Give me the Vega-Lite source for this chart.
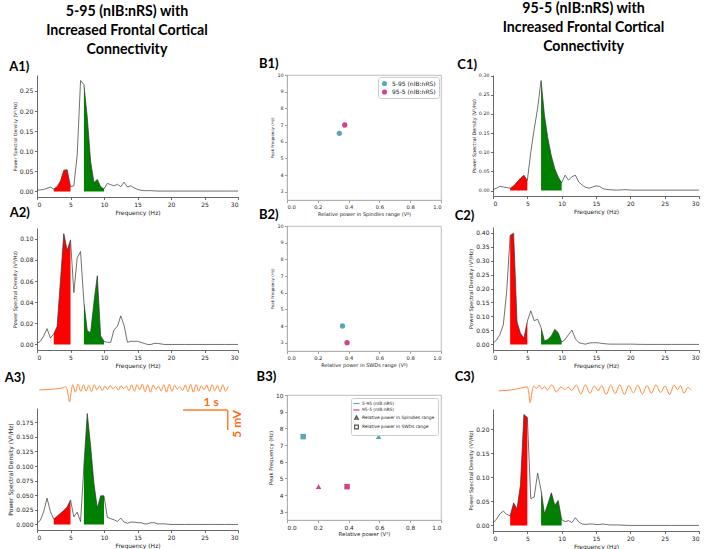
{
"$schema":"https://vega.github.io/schema/vega-lite/v6.json",
"padding":{"left":4,"top":1,"right":2,"bottom":0},
"background":"white",
"config":{
 "font":"DejaVu Sans",
 "view":{"stroke":null},
 "axis":{"grid":false,"labelFontSize":6,"titleFontSize":6,"titleFontWeight":"normal","labelColor":"#222","titleColor":"#222","domainColor":"#444","tickColor":"#444","domainWidth":0.8,"tickWidth":0.8,"tickSize":2.5,"labelPadding":1.5,"titlePadding":2,"labelFont":"DejaVu Sans","titleFont":"DejaVu Sans"},
 "title":{"font":"Lato","fontWeight":"bold","fontSize":13,"anchor":"start","frame":"bounds","offset":1,"color":"#000"},
 "legend":{"labelFont":"DejaVu Sans","titleFont":"DejaVu Sans","labelColor":"#222"}
},
"datasets":{
 "psd":[
  {"k":"A1","f":0,"p":0.003},{"k":"A1","f":0.5,"p":0.004},{"k":"A1","f":1,"p":0.005},{"k":"A1","f":1.5,"p":0.008},{"k":"A1","f":2,"p":0.011},{"k":"A1","f":2.5,"p":0.006},{"k":"A1","f":3,"p":0.012},{"k":"A1","f":3.5,"p":0.026},{"k":"A1","f":4,"p":0.053},{"k":"A1","f":4.5,"p":0.054},{"k":"A1","f":5,"p":0.012},{"k":"A1","f":5.5,"p":0.014},{"k":"A1","f":6,"p":0.09},{"k":"A1","f":6.5,"p":0.276},{"k":"A1","f":7,"p":0.266},{"k":"A1","f":7.5,"p":0.185},{"k":"A1","f":8,"p":0.075},{"k":"A1","f":8.5,"p":0.022},{"k":"A1","f":9,"p":0.03},{"k":"A1","f":9.5,"p":0.012},{"k":"A1","f":10,"p":0.006},{"k":"A1","f":10.5,"p":0.02},{"k":"A1","f":11,"p":0.017},{"k":"A1","f":11.5,"p":0.014},{"k":"A1","f":12,"p":0.018},{"k":"A1","f":12.5,"p":0.012},{"k":"A1","f":13,"p":0.023},{"k":"A1","f":13.5,"p":0.011},{"k":"A1","f":14,"p":0.014},{"k":"A1","f":14.5,"p":0.009},{"k":"A1","f":15,"p":0.005},{"k":"A1","f":15.5,"p":0.003},{"k":"A1","f":16,"p":0.002},{"k":"A1","f":17,"p":0.002},{"k":"A1","f":18,"p":0.001},{"k":"A1","f":20,"p":0.001},{"k":"A1","f":22,"p":0.001},{"k":"A1","f":24,"p":0.001},{"k":"A1","f":26,"p":0.001},{"k":"A1","f":28,"p":0.001},{"k":"A1","f":30,"p":0.001},
  {"k":"A2","f":0,"p":0.001},{"k":"A2","f":0.5,"p":0.003},{"k":"A2","f":1,"p":0.008},{"k":"A2","f":1.5,"p":0.015},{"k":"A2","f":2,"p":0.006},{"k":"A2","f":2.5,"p":0.01},{"k":"A2","f":3,"p":0.017},{"k":"A2","f":3.5,"p":0.06},{"k":"A2","f":4,"p":0.105},{"k":"A2","f":4.5,"p":0.089},{"k":"A2","f":5,"p":0.099},{"k":"A2","f":5.5,"p":0.049},{"k":"A2","f":6,"p":0.082},{"k":"A2","f":6.5,"p":0.088},{"k":"A2","f":7,"p":0.04},{"k":"A2","f":7.5,"p":0.013},{"k":"A2","f":8,"p":0.011},{"k":"A2","f":8.5,"p":0.04},{"k":"A2","f":9,"p":0.065},{"k":"A2","f":9.5,"p":0.008},{"k":"A2","f":10,"p":0.003},{"k":"A2","f":10.5,"p":0.002},{"k":"A2","f":11,"p":0.002},{"k":"A2","f":11.5,"p":0.014},{"k":"A2","f":12,"p":0.017},{"k":"A2","f":12.5,"p":0.027},{"k":"A2","f":13,"p":0.018},{"k":"A2","f":13.5,"p":0.002},{"k":"A2","f":14,"p":0.003},{"k":"A2","f":14.5,"p":0.003},{"k":"A2","f":15,"p":0.003},{"k":"A2","f":15.5,"p":0.002},{"k":"A2","f":16,"p":0.001},{"k":"A2","f":16.5,"p":0},{"k":"A2","f":17,"p":0},{"k":"A2","f":17.5,"p":0.001},{"k":"A2","f":18,"p":0.001},{"k":"A2","f":19,"p":0},{"k":"A2","f":20,"p":0},{"k":"A2","f":22,"p":0},{"k":"A2","f":24,"p":0},{"k":"A2","f":26,"p":0},{"k":"A2","f":28,"p":0},{"k":"A2","f":30,"p":0},
  {"k":"A3","f":0,"p":0.002},{"k":"A3","f":0.5,"p":0.007},{"k":"A3","f":1,"p":0.022},{"k":"A3","f":1.5,"p":0.045},{"k":"A3","f":2,"p":0.022},{"k":"A3","f":2.5,"p":0.009},{"k":"A3","f":3,"p":0.014},{"k":"A3","f":3.5,"p":0.019},{"k":"A3","f":4,"p":0.024},{"k":"A3","f":4.5,"p":0.03},{"k":"A3","f":5,"p":0.042},{"k":"A3","f":5.5,"p":0.013},{"k":"A3","f":6,"p":0.021},{"k":"A3","f":6.5,"p":0.005},{"k":"A3","f":7,"p":0.1},{"k":"A3","f":7.5,"p":0.19},{"k":"A3","f":8,"p":0.135},{"k":"A3","f":8.5,"p":0.07},{"k":"A3","f":9,"p":0.028},{"k":"A3","f":9.5,"p":0.049},{"k":"A3","f":10,"p":0.049},{"k":"A3","f":10.5,"p":0.012},{"k":"A3","f":11,"p":0.01},{"k":"A3","f":11.5,"p":0.008},{"k":"A3","f":12,"p":0.005},{"k":"A3","f":12.5,"p":0.011},{"k":"A3","f":13,"p":0.004},{"k":"A3","f":13.5,"p":0.002},{"k":"A3","f":14,"p":0.004},{"k":"A3","f":14.5,"p":0.004},{"k":"A3","f":15,"p":0.003},{"k":"A3","f":15.5,"p":0.003},{"k":"A3","f":16,"p":0.001},{"k":"A3","f":16.5,"p":0.001},{"k":"A3","f":17,"p":0.003},{"k":"A3","f":17.5,"p":0.003},{"k":"A3","f":18,"p":0.001},{"k":"A3","f":19,"p":0.001},{"k":"A3","f":20,"p":0},{"k":"A3","f":22,"p":0},{"k":"A3","f":24,"p":0},{"k":"A3","f":26,"p":0},{"k":"A3","f":28,"p":0},{"k":"A3","f":30,"p":0},
  {"k":"C1","f":0,"p":0.002},{"k":"C1","f":0.5,"p":0.006},{"k":"C1","f":1,"p":0.011},{"k":"C1","f":1.5,"p":0.009},{"k":"C1","f":2,"p":0.008},{"k":"C1","f":2.5,"p":0.006},{"k":"C1","f":3,"p":0.012},{"k":"C1","f":3.5,"p":0.022},{"k":"C1","f":4,"p":0.032},{"k":"C1","f":4.5,"p":0.04},{"k":"C1","f":5,"p":0.026},{"k":"C1","f":5.5,"p":0.1},{"k":"C1","f":6,"p":0.16},{"k":"C1","f":6.5,"p":0.215},{"k":"C1","f":7,"p":0.287},{"k":"C1","f":7.5,"p":0.195},{"k":"C1","f":8,"p":0.135},{"k":"C1","f":8.5,"p":0.09},{"k":"C1","f":9,"p":0.057},{"k":"C1","f":9.5,"p":0.035},{"k":"C1","f":10,"p":0.02},{"k":"C1","f":10.5,"p":0.04},{"k":"C1","f":11,"p":0.027},{"k":"C1","f":11.5,"p":0.036},{"k":"C1","f":12,"p":0.04},{"k":"C1","f":12.5,"p":0.022},{"k":"C1","f":13,"p":0.014},{"k":"C1","f":13.5,"p":0.008},{"k":"C1","f":14,"p":0.006},{"k":"C1","f":14.5,"p":0.009},{"k":"C1","f":15,"p":0.012},{"k":"C1","f":15.5,"p":0.011},{"k":"C1","f":16,"p":0.005},{"k":"C1","f":16.5,"p":0.003},{"k":"C1","f":17,"p":0.002},{"k":"C1","f":18,"p":0.001},{"k":"C1","f":19,"p":0.002},{"k":"C1","f":19.5,"p":0.002},{"k":"C1","f":20,"p":0.001},{"k":"C1","f":22,"p":0.001},{"k":"C1","f":24,"p":0.001},{"k":"C1","f":26,"p":0.001},{"k":"C1","f":28,"p":0.001},{"k":"C1","f":30,"p":0.001},
  {"k":"C2","f":0,"p":0.005},{"k":"C2","f":0.5,"p":0.015},{"k":"C2","f":1,"p":0.035},{"k":"C2","f":1.5,"p":0.07},{"k":"C2","f":2,"p":0.19},{"k":"C2","f":2.5,"p":0.39},{"k":"C2","f":3,"p":0.398},{"k":"C2","f":3.5,"p":0.08},{"k":"C2","f":4,"p":0.04},{"k":"C2","f":4.5,"p":0.022},{"k":"C2","f":5,"p":0.083},{"k":"C2","f":5.5,"p":0.12},{"k":"C2","f":6,"p":0.085},{"k":"C2","f":6.5,"p":0.09},{"k":"C2","f":7,"p":0.06},{"k":"C2","f":7.5,"p":0.012},{"k":"C2","f":8,"p":0.018},{"k":"C2","f":8.5,"p":0.03},{"k":"C2","f":9,"p":0.054},{"k":"C2","f":9.5,"p":0.042},{"k":"C2","f":10,"p":0.008},{"k":"C2","f":10.5,"p":0.018},{"k":"C2","f":11,"p":0.035},{"k":"C2","f":11.5,"p":0.051},{"k":"C2","f":12,"p":0.02},{"k":"C2","f":12.5,"p":0.006},{"k":"C2","f":13,"p":0.003},{"k":"C2","f":13.5,"p":0.001},{"k":"C2","f":14,"p":0.005},{"k":"C2","f":14.5,"p":0.006},{"k":"C2","f":15,"p":0.006},{"k":"C2","f":15.5,"p":0.005},{"k":"C2","f":16,"p":0.003},{"k":"C2","f":16.5,"p":0.002},{"k":"C2","f":17,"p":0.001},{"k":"C2","f":18,"p":0.001},{"k":"C2","f":20,"p":0.001},{"k":"C2","f":22,"p":0},{"k":"C2","f":24,"p":0},{"k":"C2","f":26,"p":0},{"k":"C2","f":28,"p":0},{"k":"C2","f":30,"p":0},
  {"k":"C3","f":0,"p":0.005},{"k":"C3","f":0.5,"p":0.013},{"k":"C3","f":1,"p":0.024},{"k":"C3","f":1.5,"p":0.03},{"k":"C3","f":2,"p":0.023},{"k":"C3","f":2.5,"p":0.02},{"k":"C3","f":3,"p":0.047},{"k":"C3","f":3.5,"p":0.035},{"k":"C3","f":4,"p":0.084},{"k":"C3","f":4.5,"p":0.231},{"k":"C3","f":5,"p":0.225},{"k":"C3","f":5.5,"p":0.056},{"k":"C3","f":6,"p":0.059},{"k":"C3","f":6.5,"p":0.109},{"k":"C3","f":7,"p":0.073},{"k":"C3","f":7.5,"p":0.024},{"k":"C3","f":8,"p":0.045},{"k":"C3","f":8.5,"p":0.068},{"k":"C3","f":9,"p":0.042},{"k":"C3","f":9.5,"p":0.052},{"k":"C3","f":10,"p":0.012},{"k":"C3","f":10.5,"p":0.008},{"k":"C3","f":11,"p":0.01},{"k":"C3","f":11.5,"p":0.006},{"k":"C3","f":12,"p":0.016},{"k":"C3","f":12.5,"p":0.007},{"k":"C3","f":13,"p":0.003},{"k":"C3","f":13.5,"p":0.002},{"k":"C3","f":14,"p":0.003},{"k":"C3","f":14.5,"p":0.003},{"k":"C3","f":15,"p":0.002},{"k":"C3","f":15.5,"p":0.002},{"k":"C3","f":16,"p":0.003},{"k":"C3","f":16.5,"p":0.002},{"k":"C3","f":17,"p":0.001},{"k":"C3","f":18,"p":0.001},{"k":"C3","f":20,"p":0},{"k":"C3","f":22,"p":0},{"k":"C3","f":24,"p":0},{"k":"C3","f":26,"p":0},{"k":"C3","f":28,"p":0},{"k":"C3","f":30,"p":0}
 ],
 "traceA":[
  {"t":0.05,"v":0},{"t":0.2,"v":0.05},{"t":0.35,"v":0.15},{"t":0.5,"v":0.35},{"t":0.6,"v":0.6},{"t":0.63,"v":0.8},{"t":0.67,"v":0.3},{"t":0.7,"v":-1.5},{"t":0.73,"v":-3.0},{"t":0.76,"v":-1.0},{"t":0.8,"v":1.3},{"t":0.86,"v":-0.6},{"t":0.92,"v":1.4},{"t":0.98,"v":-0.4},{"t":1.04,"v":1.2},{"t":1.1,"v":-0.3},{"t":1.16,"v":1.1},{"t":1.22,"v":-0.5},{"t":1.28,"v":1.3},{"t":1.34,"v":0.0},{"t":1.4,"v":1.0},{"t":1.46,"v":-0.2},{"t":1.52,"v":0.9},{"t":1.58,"v":0.1},{"t":1.64,"v":1.1},{"t":1.7,"v":0.2},{"t":1.76,"v":0.8},{"t":1.82,"v":-0.1},{"t":1.88,"v":1.0},{"t":1.94,"v":0.3},{"t":2.0,"v":0.9},{"t":2.06,"v":-0.2},{"t":2.12,"v":1.2},{"t":2.18,"v":-0.4},{"t":2.24,"v":1.3},{"t":2.3,"v":0.0},{"t":2.36,"v":1.4},{"t":2.42,"v":-0.5},{"t":2.48,"v":1.3},{"t":2.54,"v":-0.6},{"t":2.6,"v":1.2},{"t":2.66,"v":0.1},{"t":2.72,"v":0.9},{"t":2.78,"v":-0.3},{"t":2.84,"v":1.3},{"t":2.9,"v":-0.6},{"t":2.96,"v":1.4},{"t":3.02,"v":-0.4},{"t":3.08,"v":1.1},{"t":3.14,"v":0.2},{"t":3.2,"v":0.8},{"t":3.26,"v":-0.2},{"t":3.32,"v":1.2},{"t":3.38,"v":-0.5},{"t":3.44,"v":1.4},{"t":3.5,"v":-0.6},{"t":3.56,"v":1.3},{"t":3.62,"v":-0.3},{"t":3.68,"v":1.0},{"t":3.74,"v":0.0},{"t":3.8,"v":1.2},{"t":3.86,"v":-0.4},{"t":3.92,"v":1.3},{"t":3.98,"v":-0.2},{"t":4.04,"v":1.1},{"t":4.1,"v":-0.5},{"t":4.16,"v":1.3},{"t":4.22,"v":-0.3},{"t":4.28,"v":0.9}
 ],
 "traceC":[
  {"t":0.13,"v":0},{"t":0.3,"v":0.1},{"t":0.5,"v":0.4},{"t":0.7,"v":0.9},{"t":0.76,"v":1.0},{"t":0.79,"v":-0.5},{"t":0.82,"v":-3.0},{"t":0.86,"v":-0.5},{"t":0.9,"v":1.2},{"t":0.96,"v":0.6},{"t":1.02,"v":1.4},{"t":1.08,"v":0.4},{"t":1.14,"v":1.1},{"t":1.2,"v":0.2},{"t":1.3,"v":1.5},{"t":1.4,"v":-0.3},{"t":1.5,"v":1.0},{"t":1.58,"v":0.3},{"t":1.66,"v":0.9},{"t":1.74,"v":0.1},{"t":1.84,"v":1.4},{"t":1.94,"v":-0.8},{"t":2.04,"v":1.5},{"t":2.14,"v":-0.6},{"t":2.24,"v":1.2},{"t":2.32,"v":0.0},{"t":2.4,"v":1.3},{"t":2.5,"v":-0.9},{"t":2.6,"v":1.4},{"t":2.7,"v":-0.7},{"t":2.8,"v":1.5},{"t":2.9,"v":-0.9},{"t":3.0,"v":1.3},{"t":3.1,"v":-0.5},{"t":3.2,"v":1.4},{"t":3.3,"v":-0.8},{"t":3.4,"v":1.3},{"t":3.5,"v":-0.6},{"t":3.6,"v":1.5},{"t":3.7,"v":-0.4},{"t":3.8,"v":1.2},{"t":3.9,"v":-0.9},{"t":4.0,"v":1.4},{"t":4.08,"v":0.3},{"t":4.14,"v":1.3},{"t":4.22,"v":-0.6},{"t":4.3,"v":0.8},{"t":4.38,"v":0.2}
 ],
 "scalebar":[{"t":3.27,"t2":4.27,"v":-5.05,"v2":-5.05},{"t":4.27,"t2":4.27,"v":-5.05,"v2":-10.05}],
 "b1":[{"group":"5-95 (nIB:nRS)","power":0.34,"peak":6.5},{"group":"95-5 (nIB:nRS)","power":0.375,"peak":7.0}],
 "b2":[{"group":"5-95 (nIB:nRS)","power":0.36,"peak":4.0},{"group":"95-5 (nIB:nRS)","power":0.39,"peak":3.0}],
 "b3":[{"group":"5-95 (nIB:nRS)","measure":"Spindles","power":0.595,"peak":7.5},{"group":"5-95 (nIB:nRS)","measure":"SWDs","power":0.105,"peak":7.5},{"group":"95-5 (nIB:nRS)","measure":"Spindles","power":0.205,"peak":4.5},{"group":"95-5 (nIB:nRS)","measure":"SWDs","power":0.39,"peak":4.5}]
},
"spacing":12,
"resolve":{"scale":{"color":"independent","shape":"independent"},"legend":{"color":"independent","shape":"independent"}},
"hconcat":[
 {
  "title":{"text":["5-95 (nIB:nRS) with","Increased Frontal Cortical","Connectivity"],"anchor":"middle","fontSize":14.2,"lineHeight":19,"offset":4,"dx":3},
  "spacing":-8,
  "vconcat":[
   {
    "width":201,"height":122,
    "title":{"text":"A1)","dx":-3},
    "data":{"name":"psd"},
    "transform":[{"filter":"datum.k==='A1'"}],
    "encoding":{
     "x":{"field":"f","type":"quantitative","scale":{"domain":[0,30],"nice":false,"zero":false},"axis":{"title":"Frequency (Hz)","values":[0,5,10,15,20,25,30]}},
     "y":{"field":"p","type":"quantitative","scale":{"domain":[-0.0138,0.2898],"nice":false,"zero":false},"axis":{"title":"Power Spectral Density (V²/Hz)","values":[0,0.05,0.1,0.15,0.2,0.25],"format":".2f","titleFontSize":4.5,"labelFontSize":6.2}}
    },
    "layer":[
     {"transform":[{"filter":"datum.f>=2.5 && datum.f<=5"}],"mark":{"type":"area","color":"#ff0000"},"encoding":{"y2":{"datum":0}}},
     {"transform":[{"filter":"datum.f>=7 && datum.f<=10"}],"mark":{"type":"area","color":"#008000"},"encoding":{"y2":{"datum":0}}},
     {"mark":{"type":"line","color":"#333","strokeWidth":0.7},"encoding":{}}
    ]
   },
   {
    "width":201,"height":122,
    "title":{"text":"A2)","dx":-3,"offset":8},
    "data":{"name":"psd"},
    "transform":[{"filter":"datum.k==='A2'"}],
    "encoding":{
     "x":{"field":"f","type":"quantitative","scale":{"domain":[0,30],"nice":false,"zero":false},"axis":{"title":["Frequency (Hz)"," "],"titleLineHeight":12,"values":[0,5,10,15,20,25,30]}},
     "y":{"field":"p","type":"quantitative","scale":{"domain":[-0.00525,0.11025],"nice":false,"zero":false},"axis":{"title":"Power Spectral Density (V²/Hz)","values":[0,0.02,0.04,0.06,0.08,0.1],"format":".2f","titleFontSize":5}}
    },
    "layer":[
     {"transform":[{"filter":"datum.f>=2.5 && datum.f<=5"}],"mark":{"type":"area","color":"#ff0000"},"encoding":{"y2":{"datum":0}}},
     {"transform":[{"filter":"datum.f>=7 && datum.f<=10"}],"mark":{"type":"area","color":"#008000"},"encoding":{"y2":{"datum":0}}},
     {"mark":{"type":"line","color":"#333","strokeWidth":0.7},"encoding":{}}
    ]
   },
   {
    "width":201,"height":122,
    "title":{"text":"A3)","dx":-3,"dy":4},
    "layer":[
     {
      "data":{"name":"psd"},
      "transform":[{"filter":"datum.k==='A3'"}],
      "encoding":{
       "x":{"field":"f","type":"quantitative","scale":{"domain":[0,30],"nice":false,"zero":false},"axis":{"title":"Frequency (Hz)","values":[0,5,10,15,20,25,30]}},
       "y":{"field":"p","type":"quantitative","scale":{"domain":[-0.0095,0.1995],"nice":false,"zero":false},"axis":{"title":"Power Spectral Density (V²/Hz)","values":[0,0.025,0.05,0.075,0.1,0.125,0.15,0.175],"format":".3f","titleFontSize":6}}
      },
      "layer":[
       {"transform":[{"filter":"datum.f>=2.5 && datum.f<=5"}],"mark":{"type":"area","color":"#ff0000"},"encoding":{"y2":{"datum":0}}},
       {"transform":[{"filter":"datum.f>=7 && datum.f<=10"}],"mark":{"type":"area","color":"#008000"},"encoding":{"y2":{"datum":0}}},
       {"mark":{"type":"line","color":"#333","strokeWidth":0.7},"encoding":{}}
      ]
     },
     {
      "layer":[
       {"data":{"name":"traceA"},"mark":{"type":"line","color":"#ff8a3c","strokeWidth":1,"interpolate":"monotone"},
        "encoding":{"x":{"field":"t","type":"quantitative","scale":{"domain":[0,4.5],"nice":false,"zero":false},"axis":null},"y":{"field":"v","type":"quantitative","scale":{"domain":[-3.3,2.2],"range":[-5,-27],"nice":false,"zero":false},"axis":null}}},
       {"data":{"name":"scalebar"},"mark":{"type":"rule","color":"#ff7a2a","strokeWidth":1.5},
        "encoding":{"x":{"field":"t","type":"quantitative","scale":{"domain":[0,4.5],"nice":false,"zero":false},"axis":null},"x2":{"field":"t2"},"y":{"field":"v","type":"quantitative","scale":{"domain":[-3.3,2.2],"range":[-5,-27],"nice":false,"zero":false},"axis":null},"y2":{"field":"v2"}}},
       {"data":{"values":[{"t":3.9,"v":-5.05,"label":"1 s"}]},"mark":{"type":"text","color":"#ff6a13","font":"Lato","fontWeight":"bold","fontSize":12,"baseline":"bottom","align":"center","dy":-1},
        "encoding":{"x":{"field":"t","type":"quantitative","scale":{"domain":[0,4.5],"nice":false,"zero":false},"axis":null},"y":{"field":"v","type":"quantitative","scale":{"domain":[-3.3,2.2],"range":[-5,-27],"nice":false,"zero":false},"axis":null},"text":{"field":"label"}}},
       {"data":{"values":[{"t":4.48,"v":-8.55,"label":"5 mV"}]},"mark":{"type":"text","color":"#ff6a13","font":"Lato","fontWeight":"bold","fontSize":12,"baseline":"middle","align":"center","angle":270},
        "encoding":{"x":{"field":"t","type":"quantitative","scale":{"domain":[0,4.5],"nice":false,"zero":false},"axis":null},"y":{"field":"v","type":"quantitative","scale":{"domain":[-3.3,2.2],"range":[-5,-27],"nice":false,"zero":false},"axis":null},"text":{"field":"label"}}}
      ]
     }
    ],
    "resolve":{"scale":{"x":"independent","y":"independent"}}
   }
  ]
 },
 {
  "title":{"text":[" "," "," "],"anchor":"middle","fontSize":14.2,"lineHeight":19,"offset":4},
  "spacing":-9,
  "resolve":{"scale":{"color":"independent","shape":"independent"},"legend":{"color":"independent","shape":"independent"}},
  "vconcat":[
   {
    "width":154,"height":125,
    "title":{"text":"B1)","dx":-12},
    "view":{"stroke":"#aaa","strokeWidth":0.8},
    "data":{"name":"b1"},
    "mark":{"type":"circle","size":28,"opacity":1},
    "encoding":{
     "x":{"field":"power","type":"quantitative","scale":{"domain":[0,1],"nice":false},"axis":{"title":"Relative power in Spindles range (V²)","values":[0,0.2,0.4,0.6,0.8,1],"format":".1f","labelFontSize":5.2,"titleFontSize":5,"domainColor":"#aaa","tickColor":"#888"}},
     "y":{"field":"peak","type":"quantitative","scale":{"domain":[2.5,10],"nice":false,"zero":false},"axis":{"title":"Peak Frequency (Hz)","values":[3,4,5,6,7,8,9,10],"labelFontSize":4.8,"titleFontSize":4,"domainColor":"#aaa","tickColor":"#888"}},
     "color":{"field":"group","type":"nominal","scale":{"domain":["5-95 (nIB:nRS)","95-5 (nIB:nRS)"],"range":["#58a9b8","#d63f8b"]},"legend":{"title":null,"orient":"top-right","offset":2,"strokeColor":"#ccc","cornerRadius":2,"padding":3,"fillColor":"white","labelFontSize":6,"symbolSize":26,"symbolType":"circle","rowPadding":1.5}}
    }
   },
   {
    "width":154,"height":125,
    "title":{"text":"B2)","dx":-12,"offset":1},
    "view":{"stroke":"#aaa","strokeWidth":0.8},
    "data":{"name":"b2"},
    "mark":{"type":"circle","size":28,"opacity":1},
    "encoding":{
     "x":{"field":"power","type":"quantitative","scale":{"domain":[0,1],"nice":false},"axis":{"title":["Relative power in SWDs range (V²)"," "],"titleLineHeight":11,"values":[0,0.2,0.4,0.6,0.8,1],"format":".1f","labelFontSize":5.2,"titleFontSize":5,"domainColor":"#aaa","tickColor":"#888"}},
     "y":{"field":"peak","type":"quantitative","scale":{"domain":[2.5,10],"nice":false,"zero":false},"axis":{"title":"Peak Frequency (Hz)","values":[3,4,5,6,7,8,9,10],"labelFontSize":4.8,"titleFontSize":4,"domainColor":"#aaa","tickColor":"#888"}},
     "color":{"field":"group","type":"nominal","scale":{"domain":["5-95 (nIB:nRS)","95-5 (nIB:nRS)"],"range":["#58a9b8","#d63f8b"]},"legend":null}
    }
   },
   {
    "width":154,"height":125,
    "title":{"text":"B3)","dx":-12,"offset":8},
    "view":{"stroke":"#aaa","strokeWidth":0.8},
    "layer":[
     {
      "data":{"name":"b3"},
      "mark":{"type":"point","filled":true,"opacity":1,"size":30},
      "encoding":{
       "x":{"field":"power","type":"quantitative","scale":{"domain":[0,1],"nice":false},"axis":{"title":"Relative power (V²)","values":[0,0.2,0.4,0.6,0.8,1],"format":".1f","labelFontSize":5.8,"titleFontSize":5.4,"domainColor":"#aaa","tickColor":"#888"}},
       "y":{"field":"peak","type":"quantitative","scale":{"domain":[2.5,10],"nice":false,"zero":false},"axis":{"title":"Peak Frequency (Hz)","values":[3,4,5,6,7,8,9,10],"labelFontSize":5.8,"titleFontSize":5.3,"domainColor":"#aaa","tickColor":"#888"}},
       "color":{"field":"group","type":"nominal","scale":{"domain":["5-95 (nIB:nRS)","95-5 (nIB:nRS)"],"range":["#58a9b8","#d63f8b"]},"legend":null},
       "shape":{"field":"measure","type":"nominal","scale":{"domain":["Spindles","SWDs"],"range":["triangle-up","square"]},"legend":null}
      }
     },
     {
      "data":{"values":[{"entry":"5-95 (nIB:nRS)"},{"entry":"95-5 (nIB:nRS)"},{"entry":"Relative power in Spindles range"},{"entry":"Relative power in SWDs range"}]},
      "mark":{"type":"point","filled":false,"opacity":0},
      "encoding":{
       "color":{"field":"entry","type":"nominal","scale":{"domain":["5-95 (nIB:nRS)","95-5 (nIB:nRS)","Relative power in Spindles range","Relative power in SWDs range"],"range":["#58a9b8","#d63f8b","#555","#555"]},"legend":{"title":null,"orient":"top-right","offset":3,"strokeColor":"#ccc","cornerRadius":2,"padding":3,"fillColor":"white","labelFontSize":4.4,"symbolSize":14,"symbolStrokeWidth":1.2,"symbolOpacity":1,"rowPadding":0.5,"labelOffset":3}},
       "shape":{"field":"entry","type":"nominal","scale":{"domain":["5-95 (nIB:nRS)","95-5 (nIB:nRS)","Relative power in Spindles range","Relative power in SWDs range"],"range":["M-1.6,0H1.6","M-1.6,0H1.6","triangle-up","square"]},"legend":{"title":null,"orient":"top-right","offset":3,"strokeColor":"#ccc","cornerRadius":2,"padding":3,"fillColor":"white","labelFontSize":4.4,"symbolSize":14,"symbolStrokeWidth":1.2,"symbolOpacity":1,"rowPadding":0.5,"labelOffset":3}}
      }
     }
    ],
    "resolve":{"scale":{"color":"independent","shape":"independent"}}
   }
  ]
 },
 {
  "title":{"text":["95-5 (nIB:nRS) with","Increased Frontal Cortical","Connectivity"],"anchor":"middle","fontSize":14.2,"lineHeight":19,"offset":4,"dx":6},
  "spacing":-4,
  "vconcat":[
   {
    "width":206,"height":121,
    "title":{"text":"C1)","dx":-14,"offset":1},
    "data":{"name":"psd"},
    "transform":[{"filter":"datum.k==='C1'"}],
    "encoding":{
     "x":{"field":"f","type":"quantitative","scale":{"domain":[0,30],"nice":false,"zero":false},"axis":{"title":"Frequency (Hz)","values":[0,5,10,15,20,25,30]}},
     "y":{"field":"p","type":"quantitative","scale":{"domain":[-0.01435,0.3014],"nice":false,"zero":false},"axis":{"title":"Power Spectral Density (V²/Hz)","values":[0,0.05,0.1,0.15,0.2,0.25,0.3],"format":".2f","titleFontSize":4.8,"labelFontSize":4.8}}
    },
    "layer":[
     {"transform":[{"filter":"datum.f>=2.5 && datum.f<=5"}],"mark":{"type":"area","color":"#ff0000"},"encoding":{"y2":{"datum":0}}},
     {"transform":[{"filter":"datum.f>=7 && datum.f<=10"}],"mark":{"type":"area","color":"#008000"},"encoding":{"y2":{"datum":0}}},
     {"mark":{"type":"line","color":"#333","strokeWidth":0.7},"encoding":{}}
    ]
   },
   {
    "width":206,"height":123,
    "title":{"text":"C2)","dx":-14,"offset":4},
    "data":{"name":"psd"},
    "transform":[{"filter":"datum.k==='C2'"}],
    "encoding":{
     "x":{"field":"f","type":"quantitative","scale":{"domain":[0,30],"nice":false,"zero":false},"axis":{"title":["Frequency (Hz)"," "],"titleLineHeight":6,"values":[0,5,10,15,20,25,30]}},
     "y":{"field":"p","type":"quantitative","scale":{"domain":[-0.02,0.42],"nice":false,"zero":false},"axis":{"title":"Power Spectral Density (V²/Hz)","values":[0,0.05,0.1,0.15,0.2,0.25,0.3,0.35,0.4],"format":".2f","titleFontSize":5.2}}
    },
    "layer":[
     {"transform":[{"filter":"datum.f>=2.5 && datum.f<=5"}],"mark":{"type":"area","color":"#ff0000"},"encoding":{"y2":{"datum":0}}},
     {"transform":[{"filter":"datum.f>=7 && datum.f<=10"}],"mark":{"type":"area","color":"#008000"},"encoding":{"y2":{"datum":0}}},
     {"mark":{"type":"line","color":"#333","strokeWidth":0.7},"encoding":{}}
    ]
   },
   {
    "width":206,"height":122,
    "title":{"text":"C3)","dx":-14,"dy":2},
    "layer":[
     {
      "data":{"name":"psd"},
      "transform":[{"filter":"datum.k==='C3'"}],
      "encoding":{
       "x":{"field":"f","type":"quantitative","scale":{"domain":[0,30],"nice":false,"zero":false},"axis":{"title":"Frequency (Hz)","values":[0,5,10,15,20,25,30]}},
       "y":{"field":"p","type":"quantitative","scale":{"domain":[-0.0116,0.2426],"nice":false,"zero":false},"axis":{"title":"Power Spectral Density (V²/Hz)","values":[0,0.05,0.1,0.15,0.2],"format":".2f","titleFontSize":5.2}}
      },
      "layer":[
       {"transform":[{"filter":"datum.f>=2.5 && datum.f<=5"}],"mark":{"type":"area","color":"#ff0000"},"encoding":{"y2":{"datum":0}}},
       {"transform":[{"filter":"datum.f>=7 && datum.f<=10"}],"mark":{"type":"area","color":"#008000"},"encoding":{"y2":{"datum":0}}},
       {"mark":{"type":"line","color":"#333","strokeWidth":0.7},"encoding":{}}
      ]
     },
     {
      "data":{"name":"traceC"},
      "mark":{"type":"line","color":"#ff8a3c","strokeWidth":1,"interpolate":"monotone"},
      "encoding":{"x":{"field":"t","type":"quantitative","scale":{"domain":[0,4.55],"nice":false,"zero":false},"axis":null},"y":{"field":"v","type":"quantitative","scale":{"domain":[-3.3,2.2],"range":[-5,-27],"nice":false,"zero":false},"axis":null}}
     }
    ],
    "resolve":{"scale":{"x":"independent","y":"independent"}}
   }
  ]
 }
]
}
